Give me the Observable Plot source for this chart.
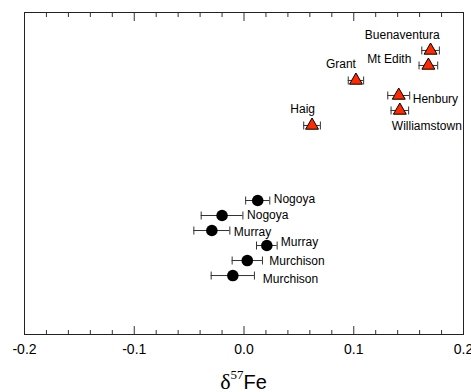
<!DOCTYPE html>
<html><head><meta charset="utf-8">
<script src="https://cdn.jsdelivr.net/npm/d3@7"></script>
<script src="https://cdn.jsdelivr.net/npm/@observablehq/plot@0.6"></script>
<style>body{margin:0;background:#fff}</style>
</head><body><div id="chart"></div>
<script>
// ---- data ----
const names = ["Buenaventura","Mt Edith","Grant","Henbury","Williamstown","Haig",
               "Nogoya","Nogoya","Murray","Murray","Murchison","Murchison"];
const groups = ["iron","iron","iron","iron","iron","iron",
                "chondrite","chondrite","chondrite","chondrite","chondrite","chondrite"];
const rows = [1,2,3,4,5,6,11,12,13,14,15,16];
const delta57 = [0.170,0.168,0.102,0.141,0.142,0.062,0.0125,-0.020,-0.0293,0.0208,0.003,-0.0102];
const err = [0.008,0.0085,0.007,0.010,0.008,0.0076,0.011,0.019,0.0164,0.0094,0.0138,0.0197];
const xTicks = [-0.2,-0.1,0.0,0.1,0.2];
const xMinorTicks = [-0.18,-0.16,-0.14,-0.12,-0.08,-0.06,-0.04,-0.02,0.02,0.04,0.06,0.08,0.12,0.14,0.16,0.18];

// label placement (layout only): [textAnchor, dx, dy]
const labelPlacement = [
  ["end", 9, -15], ["end", -17, -6], ["end", 0, -16], ["start", 14, 4], ["start", -8, 16], ["end", 3, -16],
  ["start", 16, -1], ["start", 25, 0], ["start", 22, 2], ["start", 14, -3], ["start", 22, 1], ["start", 30, 4]
];

const data = names.map((name, i) => ({
  name, group: groups[i], row: rows[i], x: delta57[i],
  lo: delta57[i] - err[i], hi: delta57[i] + err[i]
}));

const cap = {draw(ctx, size) { const h = Math.sqrt(size / Math.PI); ctx.moveTo(0, -h); ctx.lineTo(0, h); }};
const noText = () => "";
const font = "'Liberation Sans', Arial, sans-serif";

const chart = Plot.plot({
  width: 471, height: 392,
  marginLeft: 24, marginRight: 8, marginTop: 12, marginBottom: 58,
  style: {fontFamily: font, background: "#fff", color: "#000", overflow: "visible"},
  x: {domain: [-0.2, 0.2]},
  y: {domain: [-1.53, 19.93], reverse: true, axis: null},
  marks: [
    Plot.axisX({anchor: "bottom", ticks: xMinorTicks, tickSize: -4, tickFormat: noText, label: null, stroke: "#333"}),
    Plot.axisX({anchor: "bottom", ticks: xTicks, tickSize: -8, tickFormat: noText, label: null, stroke: "#333"}),
    Plot.axisX({anchor: "top", ticks: xMinorTicks, tickSize: -4, tickFormat: noText, label: null, stroke: "#333"}),
    Plot.axisX({anchor: "top", ticks: xTicks, tickSize: -8, tickFormat: noText, label: null, stroke: "#333"}),
    Plot.axisX({anchor: "bottom", ticks: xTicks, tickSize: 0, tickPadding: 10, fontSize: 14,
                tickFormat: d => d.toFixed(1), label: null}),
    Plot.frame({stroke: "#222"}),
    Plot.ruleY(data, {y: "row", x1: "lo", x2: "hi", stroke: "#333", strokeWidth: 1}),
    Plot.dot(data, {x: "lo", y: "row", symbol: cap, r: 4, stroke: "#333", strokeWidth: 1}),
    Plot.dot(data, {x: "hi", y: "row", symbol: cap, r: 4, stroke: "#333", strokeWidth: 1}),
    Plot.dot(data.filter(d => d.group === "iron"), {x: "x", y: "row", symbol: "triangle", r: 4.8,
             fill: "#ff2a00", stroke: "#000", strokeWidth: 1}),
    Plot.dot(data.filter(d => d.group === "chondrite"), {x: "x", y: "row", r: 5.8, fill: "#000", stroke: "none"}),
    ...data.map((d, i) => Plot.text([d], {x: "x", y: "row", text: "name",
        textAnchor: labelPlacement[i][0], dx: labelPlacement[i][1], dy: labelPlacement[i][2],
        fontSize: 12, fill: "#000"}))
  ]
});

// axis title with superscript
const xs = chart.scale("x");
const cx = (xs.range[0] + xs.range[1]) / 2;
const t = d3.select(chart).append("text")
  .attr("x", cx).attr("y", 389).attr("text-anchor", "middle").attr("fill", "#000");
t.append("tspan").attr("font-family", "'Liberation Serif', 'Times New Roman', serif").attr("font-size", 22).text("δ");
t.append("tspan").attr("font-family", "'Liberation Serif', 'Times New Roman', serif").attr("font-size", 13).attr("dy", -10).text("57");
t.append("tspan").attr("font-family", font).attr("font-size", 20).attr("dy", 10).text("Fe");

document.getElementById("chart").append(chart);
</script>
</body></html>
